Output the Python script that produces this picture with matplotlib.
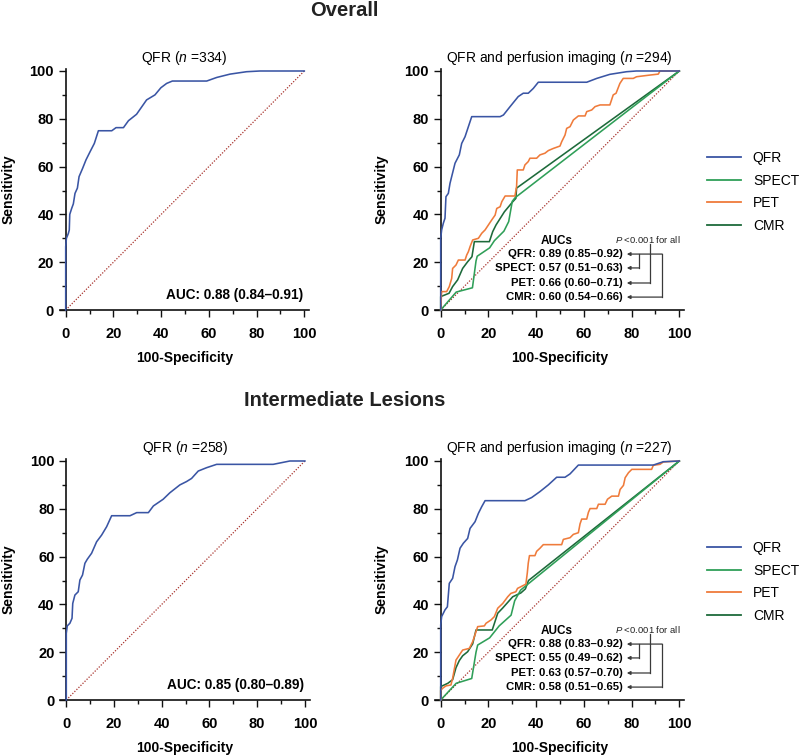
import matplotlib
matplotlib.use('Agg')
import matplotlib.pyplot as plt
from matplotlib.lines import Line2D
from matplotlib.ticker import MultipleLocator

plt.rcParams['font.family'] = ['Liberation Sans', 'DejaVu Sans']
plt.rcParams['mathtext.fontset'] = 'custom'
plt.rcParams['mathtext.it'] = 'Liberation Sans:italic'
plt.rcParams['mathtext.rm'] = 'Liberation Sans'
plt.rcParams['mathtext.bf'] = 'Liberation Sans:bold'

# ---------------- data ----------------
section_titles = ["Overall", "Intermediate Lesions"]
left_titles = [r"QFR ($\mathit{n}$ =334)", r"QFR ($\mathit{n}$ =258)"]
right_titles = [r"QFR and perfusion imaging ($\mathit{n}$ =294)",
                r"QFR and perfusion imaging ($\mathit{n}$ =227)"]
left_auc = ["AUC: 0.88 (0.84\u20130.91)", "AUC: 0.85 (0.80\u20130.89)"]
right_auc = [["QFR: 0.89 (0.85\u20130.92)", "SPECT: 0.57 (0.51\u20130.63)",
              "PET: 0.66 (0.60\u20130.71)", "CMR: 0.60 (0.54\u20130.66)"],
             ["QFR: 0.88 (0.83\u20130.92)", "SPECT: 0.55 (0.49\u20130.62)",
              "PET: 0.63 (0.57\u20130.70)", "CMR: 0.58 (0.51\u20130.65)"]]
series_names = ["QFR", "SPECT", "PET", "CMR"]
diag = [0, 100]

# Overall, QFR only
ov_qfr_x = [0, 0, 0.3, 1.1, 1.5, 1.7, 2.5, 3.2, 3.9, 4.9, 5.6, 7.1, 8.5, 10.2, 12, 13.7, 19.3, 21.1,
            24.2, 26.3, 29.7, 33.9, 37.4, 39.9, 42.3, 44.7, 59.1, 63.3, 68.9, 75.8, 81.4, 100]
ov_qfr_y = [0, 26.5, 30, 32, 33.5, 40, 42.5, 44.4, 48.8, 51, 55.8, 59.3, 62.8, 66.2, 69.7, 75, 75, 76.3,
            76.3, 79.2, 81.9, 87.9, 90, 93, 94.8, 95.8, 95.8, 97.3, 98.7, 99.7, 100, 100]

# Overall, QFR and perfusion imaging
ovp_qfr_x = [0, 0, 0.4, 1.1, 1.8, 2.2, 3.2, 3.9, 5.3, 6.0, 7.8, 8.8, 10.2, 11.6, 13.0, 24.9, 26.3,
             29.0, 32.5, 34.6, 36.7, 38.8, 40.9, 61.2, 65.4, 70.9, 77.9, 82.0, 100]
ovp_qfr_y = [0, 30, 33.5, 36.3, 38.4, 47.4, 48.8, 53, 58.6, 61.4, 64.9, 69.7, 72.5, 76.7, 80.9, 80.9,
             81.6, 85, 89.3, 90.7, 90.7, 92.7, 95.3, 95.3, 96.9, 98.6, 99.7, 100, 100]
ovp_pet_x = [0, 0.4, 2.5, 3.6, 4.6, 5.0, 6.4, 7.4, 10.2, 10.9, 11.6, 12.3, 13.4, 15.8, 17.2, 18.6, 20.0,
             21.4, 22.8, 23.5, 24.9, 25.6, 27.0, 31.1, 31.8, 32.1, 34.6, 35.3, 36.7, 37.4, 40.2, 41.6,
             43.7, 45.1, 47.2, 50.0, 50.7, 52.1, 52.8, 54.2, 55.6, 57.7, 60.5, 61.2, 63.3, 64.7, 66.8,
             70.9, 72.3, 73.5, 75.1, 76.5, 80.7, 82.1, 87.7, 91.2, 91.9, 100]
ovp_pet_y = [0, 7.7, 7.7, 9.8, 13.2, 17.4, 18.8, 20.9, 20.9, 23, 24.4, 26.5, 29.3, 30, 32.1, 33.5, 35.6,
             37.7, 39.7, 42.5, 43.2, 45.3, 47.7, 47.7, 51.6, 58.6, 58.6, 60.7, 62.1, 63.5, 63.5, 64.9,
             65.6, 66.7, 67.6, 68.6, 70.4, 73.2, 76, 76.7, 79.5, 81.2, 81.2, 83, 83.7, 85.1, 85.8,
             85.8, 90, 90.7, 94.8, 96.9, 96.9, 97.6, 98.3, 98.7, 100, 100]
ovp_spect_x = [0, 6.5, 13.3, 14.8, 15.3, 20.5, 22.5, 26.5, 28.5, 30.0, 31.2, 100]
ovp_spect_y = [0, 7.5, 9.3, 20.5, 22.5, 26, 29, 33, 37, 45.5, 47, 100]
ovp_cmr_x = [0, 0, 3.5, 5.0, 7.1, 9.2, 11.3, 13.1, 14.1, 20.4, 21.8, 23.2, 26.7, 30.2, 31.5, 31.8, 100]
ovp_cmr_y = [0, 5.6, 7.0, 9.8, 12.6, 17.4, 20.2, 22.3, 28.6, 28.6, 32.8, 35.6, 41.1, 45.3, 46.7, 51.0, 100]

# Intermediate lesions, QFR only
im_qfr_x = [0, 0, 0.4, 1.5, 2.4, 2.7, 3.6, 5.0, 5.7, 6.8, 7.8, 8.8, 10.6, 12.7, 14.8, 16.9, 19.0, 26.7,
            29.5, 34.4, 36.5, 40.6, 43.4, 47.6, 50.4, 52.5, 55.3, 58.8, 63.0, 86.7, 93.7, 100]
im_qfr_y = [0, 27.9, 31, 32.1, 34.2, 40.4, 43.9, 45.3, 50.2, 52.3, 57.2, 58.9, 61.4, 66.2, 69, 72.5, 77.1,
            77.1, 78.4, 78.4, 81.2, 84, 86.7, 90, 91.4, 92.7, 95.8, 97.2, 98.6, 98.6, 100, 100]

# Intermediate lesions, QFR and perfusion imaging
imp_qfr_x = [0, 0, 0.4, 1.8, 2.8, 3.6, 5.0, 6.0, 7.0, 8.1, 9.5, 11.3, 12.3, 14.4, 15.8, 17.2, 18.6,
             35.3, 38.1, 41.6, 45.1, 48.6, 52.1, 54.2, 57.7, 89.1, 93.3, 100]
imp_qfr_y = [0, 31.4, 34.9, 37.7, 39, 48.8, 50.9, 55.8, 58.6, 63.5, 65.6, 67.6, 71.8, 74.6, 78.1, 80.9,
             83.4, 83.4, 84.7, 87.2, 90, 93.2, 93.2, 94.6, 98.3, 98.3, 99.7, 100]
imp_pet_x = [0, 0, 0.8, 2.2, 4.3, 5.0, 6.4, 7.8, 9.2, 12.0, 13.4, 14.8, 15.5, 18.3, 19.0, 21.1, 22.5,
             23.9, 26.0, 28.1, 29.4, 31.5, 32.2, 33.6, 35.7, 36.3, 36.7, 37.2, 39.5, 40.2, 41.6, 43.0,
             50.7, 51.4, 54.2, 55.6, 57.7, 58.4, 59.1, 61.2, 61.9, 62.6, 65.4, 66.1, 68.9, 69.9, 71.7,
             74.5, 75.2, 76.6, 77.3, 78.7, 80.1, 88.4, 89.1, 91.9, 93.3, 100]
imp_pet_y = [0, 4.0, 4.9, 5.9, 6.3, 9.1, 16.7, 18.8, 20.9, 21.6, 24.4, 28.6, 30.7, 31.0, 32.1, 33.5, 34.9,
             38.4, 40.4, 43.2, 44.6, 45.3, 46.7, 47.4, 48.5, 53.2, 57.3, 60.4, 60.4, 62.2, 63.5, 65.0,
             65.0, 67.2, 67.9, 69.3, 70.0, 73.7, 75.7, 75.7, 78.5, 80.1, 80.1, 81.9, 81.9, 84.0, 85.3,
             85.3, 88.1, 89.8, 93.0, 95.1, 96.5, 96.5, 98.2, 98.6, 99.6, 100]
imp_spect_x = [0, 6.5, 13.0, 14.8, 15.5, 20.5, 24.5, 29.5, 31.0, 33.5, 100]
imp_spect_y = [0, 7.0, 9.0, 20.0, 23.0, 26.0, 31.0, 35.5, 41.5, 46.0, 100]
imp_cmr_x = [0, 0, 3.0, 5.0, 6.4, 7.8, 9.2, 11.3, 13.4, 14.8, 21.6, 23.9, 26.0, 30.2, 33.6, 35.5, 36.8, 100]
imp_cmr_y = [0, 5.6, 7.0, 8.5, 13.5, 16.5, 18.5, 20.2, 23.5, 29.3, 29.3, 36.3, 38.5, 43.2, 44.8, 46.5, 50.0, 100]

# ---------------- style ----------------
colors = {"QFR": "#3a55a4", "SPECT": "#2f9f58", "PET": "#ef7b3b", "CMR": "#1d6a3a"}
diag_color = "#a8322c"
LW = 1.15

fig = plt.figure(figsize=(8, 7.55), dpi=100)
W, H = 800.0, 755.0

def make_ax(x0_px, y0_px, ylab_x):
    sx = 2.386
    sy = 2.39
    left = (x0_px - 2.5 * sx) / W
    width = 104.5 * sx / W
    bottom = (H - y0_px) / H
    height = 101 * sy / H
    ax = fig.add_axes([left, bottom, width, height])
    ax.set_xlim(-2.5, 102)
    ax.set_ylim(0, 101)
    for s in ["top", "right"]:
        ax.spines[s].set_visible(False)
    ax.spines["left"].set_position(("data", 0))
    for s in ["left", "bottom"]:
        ax.spines[s].set_linewidth(1.2)
        ax.spines[s].set_color("#111111")
    ax.set_xticks([0, 20, 40, 60, 80, 100])
    ax.set_yticks([0, 20, 40, 60, 80, 100])
    ax.xaxis.set_minor_locator(MultipleLocator(10))
    ax.yaxis.set_minor_locator(MultipleLocator(10))
    ax.tick_params(which="major", length=5, width=1.0, color="#111111", labelsize=10.5)
    ax.tick_params(axis="x", which="major", pad=7)
    ax.tick_params(axis="y", which="major", pad=3.5)
    ax.tick_params(which="minor", length=3, width=1.0, color="#111111")
    for lab in ax.get_xticklabels() + ax.get_yticklabels():
        lab.set_fontweight("bold")
    ax.set_xlabel("100-Specificity", fontsize=10, fontweight="bold")
    ax.set_ylabel("Sensitivity", fontsize=10, fontweight="bold")
    ax.xaxis.set_label_coords(0.5, -0.168)
    ax.yaxis.set_label_coords(ylab_x, 0.5)
    ax.plot(diag, diag, color=diag_color, lw=0.9, linestyle=(0, (1, 1.3)), zorder=1)
    return ax

def draw_auc_block(ax, labels):
    rows = [23.4, 17.6, 11.3, 5.4]
    tip = 78.0
    ax.text(48.7, 28.9, "AUCs", fontsize=8.5, fontweight="bold", ha="center", va="center")
    for lab, y in zip(labels, rows):
        ax.text(76.3, y, lab, fontsize=8.2, fontweight="bold", ha="right", va="center")
    ax.text(73.1, 29.4, r"$\mathit{P}$ <0.001 for all", fontsize=6.8, ha="left", va="center",
            color="#222222")
    ac = "#3a3a3a"
    alw = 0.9
    ap = dict(arrowstyle="-|>", lw=alw, color=ac, mutation_scale=5, shrinkA=0, shrinkB=0)
    ax.annotate("", xy=(tip, rows[0]), xytext=(92.8, rows[0]), arrowprops=ap)
    ax.plot([83.1, 83.1], [rows[0], rows[1]], color=ac, lw=alw)
    ax.annotate("", xy=(tip, rows[1]), xytext=(83.1, rows[1]), arrowprops=ap)
    ax.plot([87.7, 87.7], [27.6, rows[2]], color=ac, lw=alw)
    ax.annotate("", xy=(tip, rows[2]), xytext=(87.7, rows[2]), arrowprops=ap)
    ax.plot([92.8, 92.8], [rows[0], rows[3]], color=ac, lw=alw)
    ax.annotate("", xy=(tip, rows[3]), xytext=(92.8, rows[3]), arrowprops=ap)

panels = [
    (65.7, 310, 440.7, 310, ov_qfr_x, ov_qfr_y,
     [(ovp_cmr_x, ovp_cmr_y, "CMR"), (ovp_spect_x, ovp_spect_y, "SPECT"),
      (ovp_pet_x, ovp_pet_y, "PET"), (ovp_qfr_x, ovp_qfr_y, "QFR")]),
    (66.3, 700, 440.7, 700, im_qfr_x, im_qfr_y,
     [(imp_cmr_x, imp_cmr_y, "CMR"), (imp_spect_x, imp_spect_y, "SPECT"),
      (imp_pet_x, imp_pet_y, "PET"), (imp_qfr_x, imp_qfr_y, "QFR")]),
]

for i, (lx, ly, rx, ry, qx, qy, rseries) in enumerate(panels):
    axl = make_ax(lx, ly, -0.178)
    axl.plot(qx, qy, color=colors["QFR"], lw=LW, clip_on=False, zorder=3)
    axl.set_title(left_titles[i], fontsize=10, pad=5)
    axl.text(99.5, 6.3, left_auc[i], fontsize=9.8, fontweight="bold", ha="right", va="center")

    axr = make_ax(rx, ry, -0.187)
    for sx_, sy_, name in rseries:
        axr.plot(sx_, sy_, color=colors[name], lw=LW, clip_on=False, zorder=3)
    axr.set_title(right_titles[i], fontsize=10, pad=5)
    draw_auc_block(axr, right_auc[i])

    handles = [Line2D([0], [0], color=colors[n], lw=1.3) for n in series_names]
    fig.legend(handles, series_names, loc="upper left",
               bbox_to_anchor=(707 / W, 1 - ((151 if i == 0 else 541) / H)),
               frameon=False, fontsize=10, handlelength=2.45, handletextpad=0.85,
               labelspacing=0.62, borderpad=0, borderaxespad=0)

fig.text(344 / W, 1 - 10 / H, section_titles[0], fontsize=14.5, fontweight="bold",
         ha="center", va="center", color="#222222")
fig.text(345 / W, 1 - 400 / H, section_titles[1], fontsize=14.5, fontweight="bold",
         ha="center", va="center", color="#222222")

fig.savefig("out.png", dpi=100)
